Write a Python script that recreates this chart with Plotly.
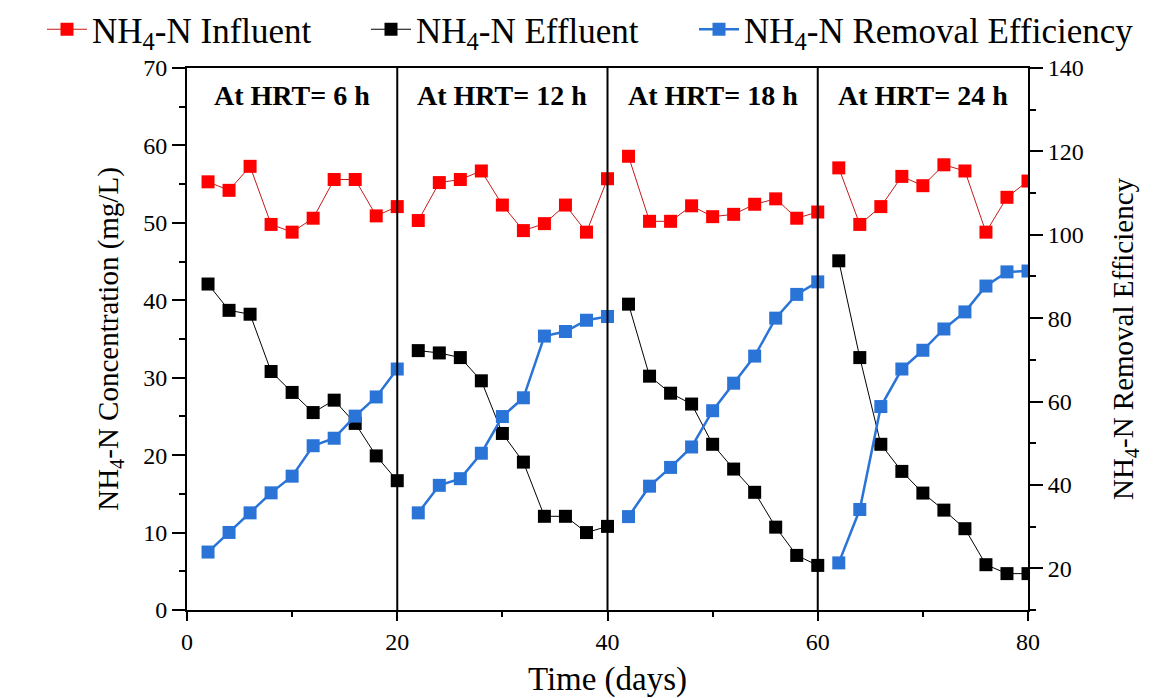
import plotly.graph_objects as go

days = list(range(2, 82, 2))
influent = [55.3, 54.2, 57.3, 49.8, 48.8, 50.6, 55.6, 55.6, 50.9, 52.1,
            50.3, 55.2, 55.6, 56.7, 52.3, 49.0, 49.9, 52.3, 48.8, 55.7,
            58.6, 50.2, 50.2, 52.2, 50.8, 51.1, 52.4, 53.1, 50.6, 51.4,
            57.1, 49.8, 52.1, 56.0, 54.8, 57.5, 56.7, 48.8, 53.3, 55.4]
effluent = [42.1, 38.7, 38.2, 30.8, 28.1, 25.5, 27.1, 24.1, 19.9, 16.7,
            33.5, 33.2, 32.6, 29.6, 22.8, 19.1, 12.1, 12.1, 10.0, 10.8,
            39.5, 30.2, 28.0, 26.6, 21.4, 18.2, 15.2, 10.7, 7.05, 5.76,
            45.1, 32.6, 21.4, 17.9, 15.1, 12.9, 10.5, 5.85, 4.7, 4.7]
efficiency = [23.9, 28.6, 33.3, 38.1, 42.1, 49.4, 51.2, 56.5, 61.1, 67.8,
              33.3, 39.9, 41.5, 47.6, 56.4, 60.9, 75.7, 76.8, 79.5, 80.4,
              32.4, 39.7, 44.2, 49.1, 57.8, 64.4, 70.9, 80.0, 85.7, 88.7,
              21.3, 34.1, 58.8, 67.8, 72.3, 77.4, 81.5, 87.7, 91.1, 91.3]

phase_bounds = [0, 20, 40, 60, 80]
phase_labels = ["At HRT= 6 h", "At HRT= 12 h", "At HRT= 18 h", "At HRT= 24 h"]

x_ticks = [0, 20, 40, 60, 80]
y_ticks = [0, 10, 20, 30, 40, 50, 60, 70]
y2_ticks = [20, 40, 60, 80, 100, 120, 140]

FONT = "Liberation Serif"


def split(vals):
    """Insert gaps between phases."""
    xs, ys = [], []
    for i in range(4):
        lo, hi = phase_bounds[i], phase_bounds[i + 1]
        for d, v in zip(days, vals):
            if lo < d <= hi:
                xs.append(d)
                ys.append(v)
        xs.append(None)
        ys.append(None)
    return xs, ys


fig = go.Figure()

xi, yi = split(influent)
fig.add_trace(go.Scatter(x=xi, y=yi, mode="lines+markers", name="NH<sub>4</sub>-N Influent",
                         line=dict(color="#c41a1a", width=1),
                         marker=dict(symbol="square", size=13, color="#ff0000"),
                         connectgaps=False, legend="legend"))
xe, ye = split(effluent)
fig.add_trace(go.Scatter(x=xe, y=ye, mode="lines+markers", name="NH<sub>4</sub>-N Effluent",
                         line=dict(color="#000000", width=1),
                         marker=dict(symbol="square", size=13, color="#000000"),
                         connectgaps=False, legend="legend2"))
xr, yr = split(efficiency)
fig.add_trace(go.Scatter(x=xr, y=yr, mode="lines+markers", name="NH<sub>4</sub>-N Removal Efficiency",
                         line=dict(color="#2a74d8", width=2.5),
                         marker=dict(symbol="square", size=13, color="#2a74d8"),
                         yaxis="y2", connectgaps=False, legend="legend3"))

for b in phase_bounds[1:-1]:
    fig.add_shape(type="line", x0=b, x1=b, y0=0, y1=1, xref="x", yref="paper",
                  line=dict(color="black", width=2))

for i, lab in enumerate(phase_labels):
    fig.add_annotation(x=(phase_bounds[i] + phase_bounds[i + 1]) / 2, y=66.4,
                       xref="x", yref="y", text="<b>%s</b>" % lab, showarrow=False,
                       font=dict(family=FONT, size=28, color="black"))


def leg(xpx):
    return dict(orientation="h", xref="container", x=xpx / 1153, xanchor="left",
                yref="container", y=1.0, yanchor="top",
                font=dict(family=FONT, size=35), itemwidth=40,
                bgcolor="rgba(0,0,0,0)")


fig.update_layout(
    width=1153, height=698,
    margin=dict(l=187, r=125, t=68, b=88, autoexpand=False),
    plot_bgcolor="white", paper_bgcolor="white",
    font=dict(family=FONT, color="black", size=24),
    showlegend=True,
    legend=leg(42), legend2=leg(366), legend3=leg(694),
    xaxis=dict(range=[0, 80], tickvals=x_ticks, showline=True, linecolor="black", linewidth=2,
               mirror=True, ticks="outside", ticklen=9, tickwidth=2, tickcolor="black",
               minor=dict(dtick=10, ticks="outside", ticklen=5, tickwidth=2, tickcolor="black"),
               showgrid=False, zeroline=False,
               title=dict(text="Time (days)", font=dict(size=33), standoff=14),
               tickfont=dict(size=24)),
    yaxis=dict(range=[0, 70], tickvals=y_ticks, showline=True, linecolor="black", linewidth=2,
               ticks="outside", ticklen=13, tickwidth=2, tickcolor="black",
               minor=dict(dtick=5, ticks="outside", ticklen=6, tickwidth=2, tickcolor="black"),
               showgrid=False, zeroline=False,
               title=dict(text="NH<sub>4</sub>-N Concentration (mg/L)", font=dict(size=29), standoff=16),
               tickfont=dict(size=24)),
    yaxis2=dict(range=[10, 140], tickvals=y2_ticks, overlaying="y", side="right",
                showline=True, linecolor="black", linewidth=2,
                ticks="outside", ticklen=13, tickwidth=2, tickcolor="black",
                minor=dict(dtick=10, ticks="outside", ticklen=6, tickwidth=2, tickcolor="black"),
                showgrid=False, zeroline=False,
                title=dict(text="NH<sub>4</sub>-N Removal Efficiency", font=dict(size=29), standoff=30),
                tickfont=dict(size=24)),
)

fig.write_html("out.html")
